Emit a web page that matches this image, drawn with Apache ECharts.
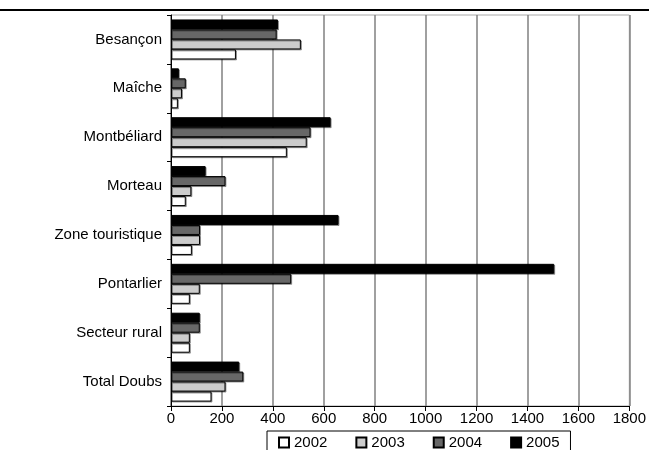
<!DOCTYPE html>
<html>
<head>
<meta charset="utf-8">
<style>
  html, body { margin: 0; padding: 0; background: #fff; }
  #chart { width: 649px; height: 450px; }
</style>
<script src="https://cdn.jsdelivr.net/npm/echarts@6/dist/echarts.min.js"></script>
</head>
<body>
<div id="chart"></div>
<script>
// Zones, listed top to bottom
const categories = ['Besançon', 'Maîche', 'Montbéliard', 'Morteau', 'Zone touristique', 'Pontarlier', 'Secteur rural', 'Total Doubs'];
const years = ['2002', '2003', '2004', '2005'];
const values2002 = [255, 27, 455, 58, 82, 74, 74, 159];
const values2003 = [510, 43, 533, 80, 114, 113, 74, 214];
const values2004 = [415, 58, 548, 214, 114, 472, 113, 284];
const values2005 = [420, 31, 627, 136, 658, 1505, 113, 268];
const xTicks = { min: 0, max: 1800, step: 200 };

const fills = ['#ffffff', '#cccccc', '#676767', '#000000'];
const FONT = "'Liberation Sans', Arial, sans-serif";

const seriesValues = [values2002, values2003, values2004, values2005];

const chart = echarts.init(document.getElementById('chart'), null, { renderer: 'canvas' });

// Latest year first so that it sits at the top of each group
const order = [3, 2, 1, 0];

chart.setOption({
  animation: false,
  backgroundColor: '#ffffff',
  textStyle: { fontFamily: FONT },
  grid: {
    left: 171, right: 15, top: 15, bottom: 44,
    show: true, borderColor: '#a8a8a8', borderWidth: 1, backgroundColor: 'transparent'
  },
  graphic: [
    { type: 'rect', left: 0, top: 9, shape: { width: 649, height: 2 }, style: { fill: '#000' }, silent: true }
  ],
  legend: {
    data: years,
    left: 267, top: 431,
    orient: 'horizontal',
    borderColor: '#000', borderWidth: 1,
    padding: [4, 11, 12, 11],
    itemWidth: 10, itemHeight: 10, itemGap: 28,
    icon: 'rect',
    textStyle: { fontSize: 15, color: '#000', fontFamily: FONT }
  },
  xAxis: {
    type: 'value',
    min: xTicks.min, max: xTicks.max, interval: xTicks.step,
    axisLine: { show: true, lineStyle: { color: '#000', width: 1 } },
    axisTick: { show: true, length: 5, lineStyle: { color: '#000' } },
    axisLabel: { fontSize: 15, color: '#000', margin: 5, fontFamily: FONT, formatter: v => String(v) },
    splitLine: { show: true, lineStyle: { color: '#808080', width: 1.5 } }
  },
  yAxis: {
    type: 'category',
    data: categories,
    inverse: true,
    axisLine: { show: true, lineStyle: { color: '#000', width: 1 } },
    axisTick: { show: true, length: 4, lineStyle: { color: '#000' } },
    axisLabel: { fontSize: 15, color: '#000', margin: 9, fontFamily: FONT },
    splitLine: { show: false }
  },
  series: order.map(i => ({
    name: years[i],
    type: 'bar',
    data: seriesValues[i],
    barWidth: 10,
    barGap: '0%',
    itemStyle: {
      color: fills[i],
      borderColor: '#000',
      borderWidth: 1,
      shadowColor: 'rgba(0,0,0,0.35)',
      shadowOffsetX: 1,
      shadowOffsetY: 1,
      shadowBlur: 0
    }
  }))
});
</script>
</body>
</html>
